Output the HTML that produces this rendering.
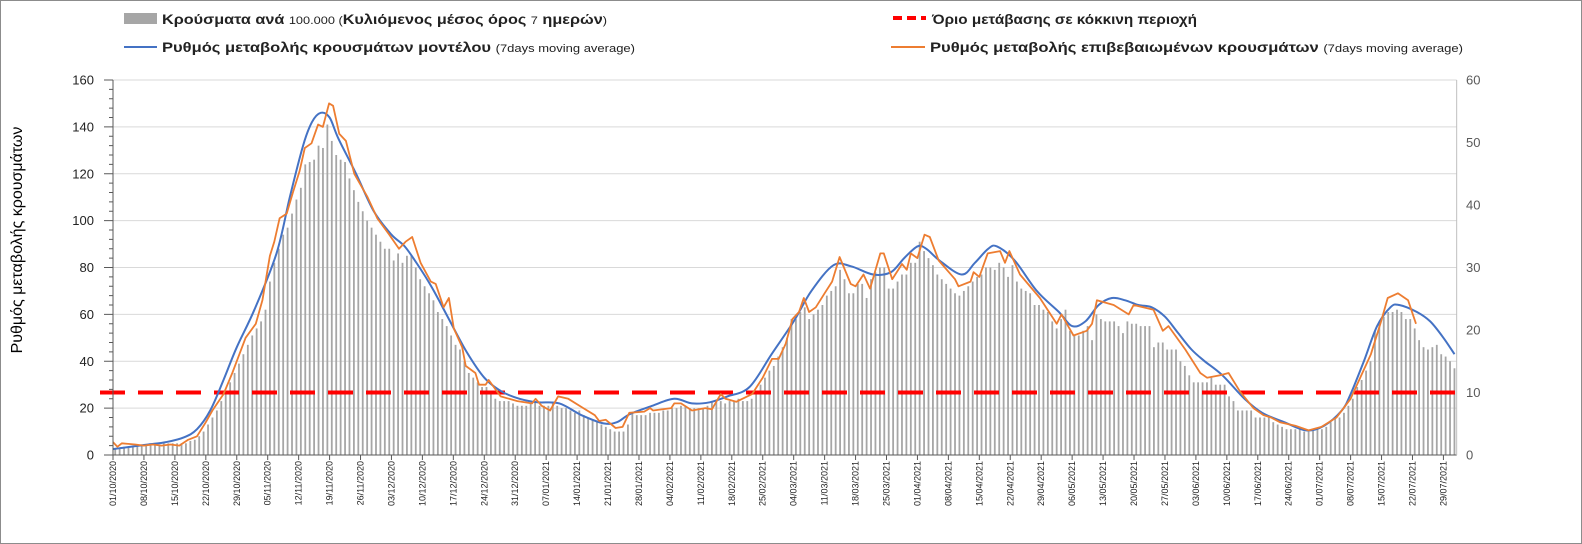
<!DOCTYPE html>
<html><head><meta charset="utf-8"><style>
html,body{margin:0;padding:0;background:#fff}
svg{display:block;font-family:"Liberation Sans","DejaVu Sans",sans-serif}
</style></head><body>
<svg id="chart" width="1582" height="544" viewBox="0 0 1582 544" xmlns="http://www.w3.org/2000/svg">
<rect x="0.5" y="0.5" width="1581" height="543" fill="#fff" stroke="#8c8c8c"/>
<g id="grid"></g>
<g id="bars"></g>
<g id="lines"></g>
<g id="axes"></g>
<text x="22" y="240" transform="rotate(-90 22 240)" text-anchor="middle" font-size="16" fill="#000">Ρυθμός μεταβολής κρουσμάτων</text>
<g>
  <g>
    <rect x="124" y="13" width="33" height="11" fill="#a6a6a6"/>
    <text x="162" y="24" font-size="14" font-weight="bold" fill="#222" textLength="445" lengthAdjust="spacingAndGlyphs">Κρούσματα ανά <tspan font-size="11" font-weight="normal">100.000 (</tspan>Κυλιόμενος μέσος όρος <tspan font-size="11" font-weight="normal">7</tspan> ημερών<tspan font-size="11" font-weight="normal">)</tspan></text>
  </g>
  <g>
    <line x1="893" y1="18" x2="926" y2="18" stroke="#ff0000" stroke-width="4" stroke-dasharray="9,5"/>
    <text x="932" y="24" font-size="14" font-weight="bold" fill="#222" textLength="265" lengthAdjust="spacingAndGlyphs">Όριο μετάβασης σε κόκκινη περιοχή</text>
  </g>
  <g>
    <line x1="124" y1="47" x2="157" y2="47" stroke="#4472c4" stroke-width="2"/>
    <text x="162" y="52" font-size="14" font-weight="bold" fill="#222" textLength="473" lengthAdjust="spacingAndGlyphs">Ρυθμός μεταβολής κρουσμάτων μοντέλου <tspan font-size="11" font-weight="normal">(7days moving average)</tspan></text>
  </g>
  <g>
    <line x1="891" y1="47" x2="925" y2="47" stroke="#ed7d31" stroke-width="2"/>
    <text x="930" y="52" font-size="14" font-weight="bold" fill="#222" textLength="533" lengthAdjust="spacingAndGlyphs">Ρυθμός μεταβολής επιβεβαιωμένων κρουσμάτων <tspan font-size="11" font-weight="normal">(7days moving average)</tspan></text>
  </g>
</g>
</svg>
<script>
// ---- data ----
const startDate = [2020, 9, 1]; // 01/10/2020
const barValues = [
3,3,3.5,3.5,4,4,4.5, 4.5,4.5,4.5,4.5,5,5,5, 5,5,5,6,6.5,8,10, 13,16,19,23,27,31,35,
39,43,47,51,54,57,62, 74,82,88,94,97,103,109, 114,124,125,126,132,131,141, 134,128,126,125,118,113,108,
104,100,97,94,91,88,88, 83,86,82,85,85,80,75, 72,69,66,61,58,55,51, 47,45,40,35,33,31,29,
29,27,24,23,23,23,22, 21,21,21,22,23,21,21, 21,22,21,20,20,19,18, 19,17,16,15,14,13,12,
11,10,10,10,13,18,17, 17,17,18,18,18,19,19, 20,20,21,21,20,20,20, 20,21,23,23,23,22,23,
23,24,23,23,24,27,30, 33,36,38,42,46,50,58, 58,61,63,58,60,62,64, 68,70,72,79,75,69,69,
73,73,67,75,78,80,80, 71,71,74,77,77,82,82, 91,87,84,81,77,75,73, 71,69,68,70,72,74,76,
77,80,80,79,82,80,76, 81,74,71,70,69,64,64, 62,61,57,54,58,62,53, 51,51,53,55,49,60,58,
57,57,57,55,52,57,56, 56,55,55,55,46,48,48, 45,45,45,40,38,34,31, 31,31,31,33,30,30,30,
25,23,19,19,19,19,16, 16,16,16,14,13,12,11, 11,11,11,10,10,11,11, 11,12,14,16,16,18,21,
24,29,32,36,40,53,56, 59,61,61,62,61,58,58, 54,49,46,45,46,47,43, 42,40,37
];
const modelDays = [0,4,8,12,16,19,22,25,28,32,37,40,43,45,47,49,51,55,59,63,66,69,72,76,80,84,88,92,96,101,106,111,114,117,122,127,131,135,139,144,149,154,158,163,167,172,176,179,182,184,187,192,195,198,200,204,209,214,217,220,223,226,229,232,235,238,241,244,247,251,256,260,265,270,274,278,280,283,286,289,291,295,298,301,303.5];
const modelValues = [2.5,3.5,4.5,5.5,7.5,11,19,32,46,62,86,110,132,142,146,144,135,120,104,94,89,81,72,58,44,33,27,24,22.5,22,17,13.5,14,17.5,21,24,22,22.5,25,29,43,57,70,81,80.5,77,78,84,89,88,83,77,82,88,89,83,70,61,55,57,64,67,66,64,63,59,52,45,40,34,24,18,14,10.5,12.5,19,26,40,55,63,64,61,57,50,43];
const confirmedDays = [0,1,2,5,7,9,11,13,15,17,19,21,22.5,25,27,28.6,30,32.3,33.8,35.5,36.5,37.7,39.3,40.7,42.2,43.4,44.9,46.4,47.5,48.9,49.8,51.2,52.7,54.6,57.6,59.8,62.5,64.7,66.2,67.7,69.6,71.9,73,74.8,76,77.1,79,79.8,82,82.8,84.3,85,87.7,91.5,94.8,95.6,97,98.9,100.7,103,106.4,109,110,111.5,113.7,115.3,116.8,120.2,121.5,122.2,126.3,127,128.5,131,134,135.5,137.5,138.6,141,144.6,147,149.1,150.6,152.2,153.7,155.2,156.3,157.5,159,161,162.7,164.4,166.9,168,169.8,171.3,173.6,174.4,176.3,178.5,179.6,180.5,182,183.6,184.8,186.8,190.5,191.3,194,194.7,196,197.9,200.7,201.8,202.8,205.2,209.7,213.5,214.6,217.3,220.3,221.5,222.6,226.4,229.8,230.9,235.4,237.5,238.8,242.6,246,247.5,250.5,252.4,255,258,260.3,262,264,267.5,270.5,273.4,276.8,280,284.6,286.9,288.4,290.7,293,294.8];
const confirmedValues = [5.5,3.5,5,4.5,4,4.5,4,4.5,4,6.5,8,14,19,26,35,43,50,56,66,85,91,101,103,112,121,131,133,141,140,150,149,137,134,120,110,101,94,88,91,93,82,74,73,63,67,54,46,38,35,30,30,32,25,23,22,24,21,19,25,24,20,17,14.5,15,11.5,12,18,18.5,20,19,20,22,22,19,20,19.5,26,24,22.7,26,33,41,41,47.5,58,61,67,61,63,69,74,84.5,73,72,77,71,86,86,75,81.5,79,86,84,94,93,83,75,72,74,78,76,86,87,82,87,77,67,56,60,51,53,56,66,64,60,64,62,53,55,45,35,33,34,35,27,20,17,16,14,12.5,10.5,12,16,24,43,57,67,69,66,56];
const leftTicks = [0,20,40,60,80,100,120,140,160];
const rightTicks = [0,10,20,30,40,50,60];
const thresholdRight = 10;

// ---- scales ----
const X0 = 113, STEP = 4.42, Y0 = 455, YT = 80;
const NS = "http://www.w3.org/2000/svg";
function xDay(d){ return X0 + d*STEP; }
function yLeft(v){ return Y0 - v*(Y0-YT)/160; }
function yRight(v){ return Y0 - v*(Y0-YT)/60; }
function mk(tag, attrs, parent){ const e=document.createElementNS(NS,tag); for(const k in attrs) e.setAttribute(k,attrs[k]); parent.appendChild(e); return e; }
const nDays = barValues.length;
const xEnd = xDay(nDays);

// grid
const grid = document.getElementById('grid');
leftTicks.forEach(function(t){
  if(t===0) return;
  const l = mk('line',{x1:X0,x2:xEnd,y1:yLeft(t),y2:yLeft(t),stroke:'#d9d9d9','stroke-width':1},grid);
  
  
});

// bars
const bars = document.getElementById('bars');
barValues.forEach(function(v,i){
  const cx = xDay(i+0.5);
  const r = mk('rect',{x:cx-0.9,y:yLeft(v),width:1.8,height:Y0-yLeft(v),fill:'#a6a6a6'},bars);
  
  
});

// threshold
const lines = document.getElementById('lines');
const th = mk('line',{x1:100,x2:xEnd,y1:yRight(thresholdRight),y2:yRight(thresholdRight),stroke:'#ff0000','stroke-width':4,'stroke-dasharray':'25,13'},lines);



function smoothPath(days, vals){
  const p = days.map(function(d,i){ return [xDay(d), yLeft(vals[i])]; });
  let s = 'M'+p[0][0].toFixed(1)+','+p[0][1].toFixed(1);
  for(let i=0;i<p.length-1;i++){
    const p0=p[Math.max(0,i-1)], p1=p[i], p2=p[i+1], p3=p[Math.min(p.length-1,i+2)];
    const c1=[p1[0]+(p2[0]-p0[0])/6, p1[1]+(p2[1]-p0[1])/6];
    const c2=[p2[0]-(p3[0]-p1[0])/6, p2[1]-(p3[1]-p1[1])/6];
    s+=' C'+c1[0].toFixed(1)+','+c1[1].toFixed(1)+' '+c2[0].toFixed(1)+','+c2[1].toFixed(1)+' '+p2[0].toFixed(1)+','+p2[1].toFixed(1);
  }
  return s;
}
function polyPath(days, vals){
  return days.map(function(d,i){ return (i?'L':'M')+xDay(d).toFixed(1)+','+yLeft(vals[i]).toFixed(1); }).join(' ');
}
const blue = mk('path',{d:smoothPath(modelDays,modelValues),fill:'none',stroke:'#4472c4','stroke-width':2,'stroke-linejoin':'round'},lines);


const orange = mk('path',{d:polyPath(confirmedDays,confirmedValues),fill:'none',stroke:'#ed7d31','stroke-width':1.8,'stroke-linejoin':'round'},lines);



// axes
const axes = document.getElementById('axes');
mk('line',{x1:X0,x2:X0,y1:YT,y2:Y0,stroke:'#595959','stroke-width':1},axes);
mk('line',{x1:X0-4,x2:xEnd,y1:Y0,y2:Y0,stroke:'#595959','stroke-width':1},axes);
mk('line',{x1:xEnd,x2:xEnd,y1:YT,y2:Y0,stroke:'#bfbfbf','stroke-width':1},axes);
for(let v=0; v<=160; v+=4){
  const major = v%20===0;
  mk('line',{x1:major?X0-9:X0-4,x2:X0,y1:yLeft(v),y2:yLeft(v),stroke:'#595959','stroke-width':1},axes);
}
leftTicks.forEach(function(t){
  const tx = mk('text',{x:94,y:yLeft(t)+4.5,'text-anchor':'end','font-size':13,fill:'#222'},axes);
  tx.textContent = t;
  
  
});
rightTicks.forEach(function(t){
  const tx = mk('text',{x:1466,y:yRight(t)+4.5,'font-size':13,fill:'#595959'},axes);
  tx.textContent = t;
  
  
});
function pad(n){ return (n<10?'0':'')+n; }
for(let d=0; d<nDays; d+=7){
  const x = xDay(d);
  mk('line',{x1:x,x2:x,y1:Y0,y2:Y0+5,stroke:'#595959','stroke-width':1},axes);
  const dt = new Date(startDate[0], startDate[1], startDate[2]+d);
  const lbl = pad(dt.getDate())+'/'+pad(dt.getMonth()+1)+'/'+dt.getFullYear();
  const tx = mk('text',{x:x+3,y:461,'text-anchor':'end','font-size':9,fill:'#222',transform:'rotate(-90 '+(x+3)+' 461)'},axes);
  tx.textContent = lbl;
  
  
}
</script>
</body></html>
